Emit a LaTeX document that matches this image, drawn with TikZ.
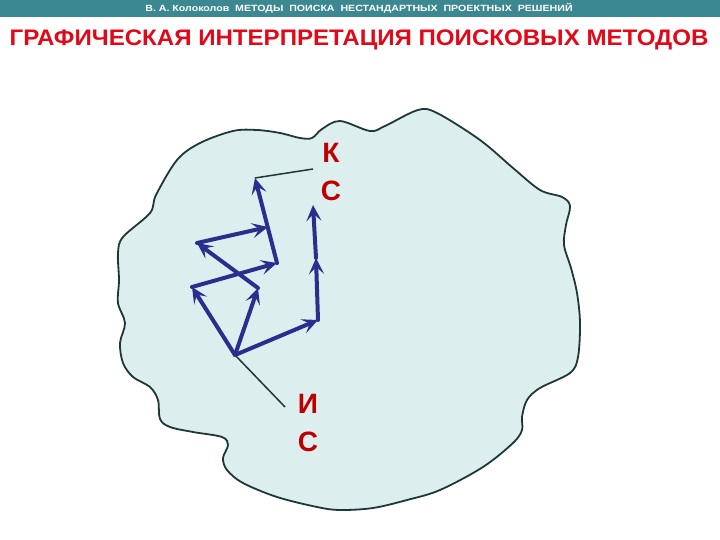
\documentclass[tikz,border=0pt]{standalone}
\usepackage{fontspec}
\setmainfont{Liberation Sans}
\usetikzlibrary{arrows.meta}

\definecolor{bandteal}{RGB}{60,136,144}
\definecolor{titlered}{RGB}{226,8,24}
\definecolor{labelred}{RGB}{192,0,0}
\definecolor{areafill}{RGB}{221,238,238}
\definecolor{arealine}{RGB}{30,55,55}
\definecolor{moveblue}{RGB}{42,46,140}

\tikzset{
	move/.style={draw=moveblue, line width=4pt, line cap=round, line join=round,
		-{Stealth[length=16pt,width=15pt,inset=7pt]}},
	pointer/.style={draw=arealine, line width=1.5pt},
	statelabel/.style={text=labelred, font=\fontsize{28}{38}\selectfont\bfseries, align=center, inner sep=0pt}
}

\begin{document}
\begin{tikzpicture}[x=1pt, y=-1pt]
	\useasboundingbox (0,0) rectangle (720,540);
	% header band and title
	\fill[bandteal] (0,0) rectangle (720,17);
	\node[text=white, font=\fontsize{9}{10}\selectfont\bfseries] (head) at (359,8.5)
		{\scalebox{1.18}[1]{В. А. Колоколов\ \ МЕТОДЫ\ \ ПОИСКА\ \ НЕСТАНДАРТНЫХ\ \ ПРОЕКТНЫХ\ \ РЕШЕНИЙ}};
	\node[text=titlered, font=\fontsize{22.5}{26}\selectfont\bfseries] (title) at (359,40)
		{\scalebox{1.07}[1]{ГРАФИЧЕСКАЯ ИНТЕРПРЕТАЦИЯ ПОИСКОВЫХ МЕТОДОВ}};

	% search area
	\draw[arealine, fill=areafill, line width=1.8pt] plot[smooth cycle, tension=0.55] coordinates {
		(118,253) (123,237) (150,213) (156,195) (177,160) (200,143) (233,131) (257,130)
		(280,133) (300,138) (312,138) (322,129) (340,121) (370,131) (385,126) (418,110)
		(437,113) (480,140) (513,168) (540,190) (562,197) (570,206) (566,225) (564,245)
		(571,268) (577,293) (580,323) (578,357) (570,373) (540,388) (527,400) (522,417)
		(522,430) (513,443) (483,467) (440,490) (407,500) (373,508) (340,510) (317,507)
		(277,497) (243,483) (227,470) (223,458) (228,445) (222,437) (193,432) (170,427)
		(160,419) (158,400) (150,387) (133,377) (123,363) (120,343) (125,323) (118,303)
		(119,280)};

	% search points
	\coordinate (S) at (235,355);
	\coordinate (A) at (192,287);
	\coordinate (B) at (277,263);
	\coordinate (T) at (255,178);
	\coordinate (C) at (258,288);
	\coordinate (D) at (197,243);
	\coordinate (E) at (268,227);
	\coordinate (F) at (318,320);
	\coordinate (G) at (316,258);
	\coordinate (H) at (313,205);

	% labels of the states
	\node[statelabel] (ks) at (331,172) {К\\С};
	\node[statelabel] (is) at (308,423) {И\\С};
	\coordinate (kc) at (313,169);
	\coordinate (ic) at (285,407);
	\draw[pointer] (T) -- (kc);
	\draw[pointer] (S) -- (ic);

	% moves
	\foreach \a/\b in {S/A, A/B, B/T, S/C, C/D, D/E, S/F, F/G, G/H}
		\draw[move] (\a) -- (\b);
\end{tikzpicture}
\end{document}
